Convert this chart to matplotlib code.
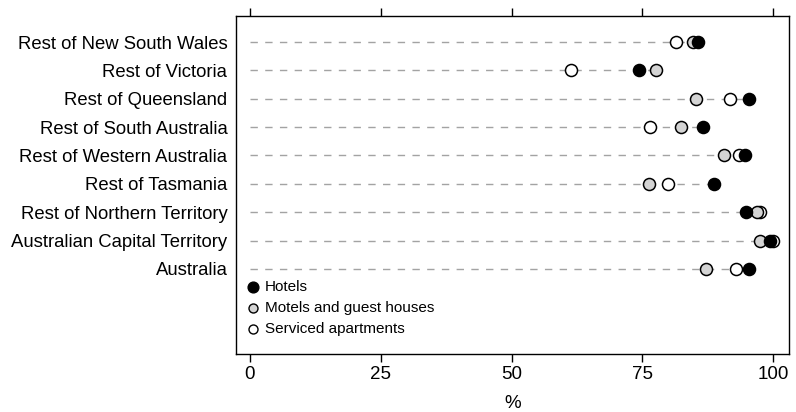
import matplotlib
matplotlib.use("Agg")
import matplotlib.pyplot as plt

plt.rcParams['font.family'] = ['Liberation Sans', 'DejaVu Sans']

regions = ['Rest of New South Wales', 'Rest of Victoria', 'Rest of Queensland',
           'Rest of South Australia', 'Rest of Western Australia', 'Rest of Tasmania',
           'Rest of Northern Territory', 'Australian Capital Territory', 'Australia']
hotels = [85.6, 74.4, 95.4, 86.5, 94.5, 88.6, 94.8, 99.4, 95.3]
motels = [84.7, 77.6, 85.2, 82.4, 90.5, 76.3, 96.8, 97.4, 87.2]
serviced = [81.4, 61.3, 91.7, 76.5, 93.4, 79.8, 97.4, 100.0, 92.9]
x_ticks = [0, 25, 50, 75, 100]

fig = plt.figure(figsize=(7.96, 4.12), dpi=100)
ax = fig.add_axes([0.2961, 0.1408, 0.6951, 0.8204])

ypos = list(range(len(regions)))

# dashed guide lines from 0 to the largest value
for i in ypos:
    top = max(hotels[i], motels[i], serviced[i])
    ax.plot([0, top], [i, i], color='#a3a3a3', lw=1.0, ls=(0, (5.3, 5.3)), zorder=1)

ax.scatter(serviced, ypos, s=75, facecolor='white', edgecolor='black', linewidth=1.1, zorder=3)
ax.scatter(motels, ypos, s=75, facecolor='#d4d4d4', edgecolor='black', linewidth=1.1, zorder=4)
ax.scatter(hotels, ypos, s=75, facecolor='black', edgecolor='black', linewidth=1.1, zorder=5)

# legend
leg_items = [('Hotels', 'black', 60), ('Motels and guest houses', '#d4d4d4', 42),
             ('Serviced apartments', 'white', 42)]
for k, (name, col, sz) in enumerate(leg_items):
    yy = 8.65 + k * 0.74
    ax.scatter([0.6], [yy], s=sz, facecolor=col, edgecolor='black', linewidth=1.0, zorder=5)
    ax.text(2.9, yy, name, va='center', ha='left', fontsize=11)

ax.set_xlim(-2.73, 103.0)
ax.set_ylim(11.0, -0.92)
ax.set_xticks(x_ticks)
ax.set_xticklabels([str(v) for v in x_ticks], fontsize=13.5)
ax.set_yticks(ypos)
ax.set_yticklabels(regions, fontsize=13.3)
ax.tick_params(axis='y', length=0, pad=6)
ax.tick_params(axis='x', top=True, direction='out', length=6, width=1, pad=3)
ax.set_xlabel('%', fontsize=13.5, labelpad=8)
for sp in ax.spines.values():
    sp.set_linewidth(1.0)

fig.savefig('out.png', dpi=100)
